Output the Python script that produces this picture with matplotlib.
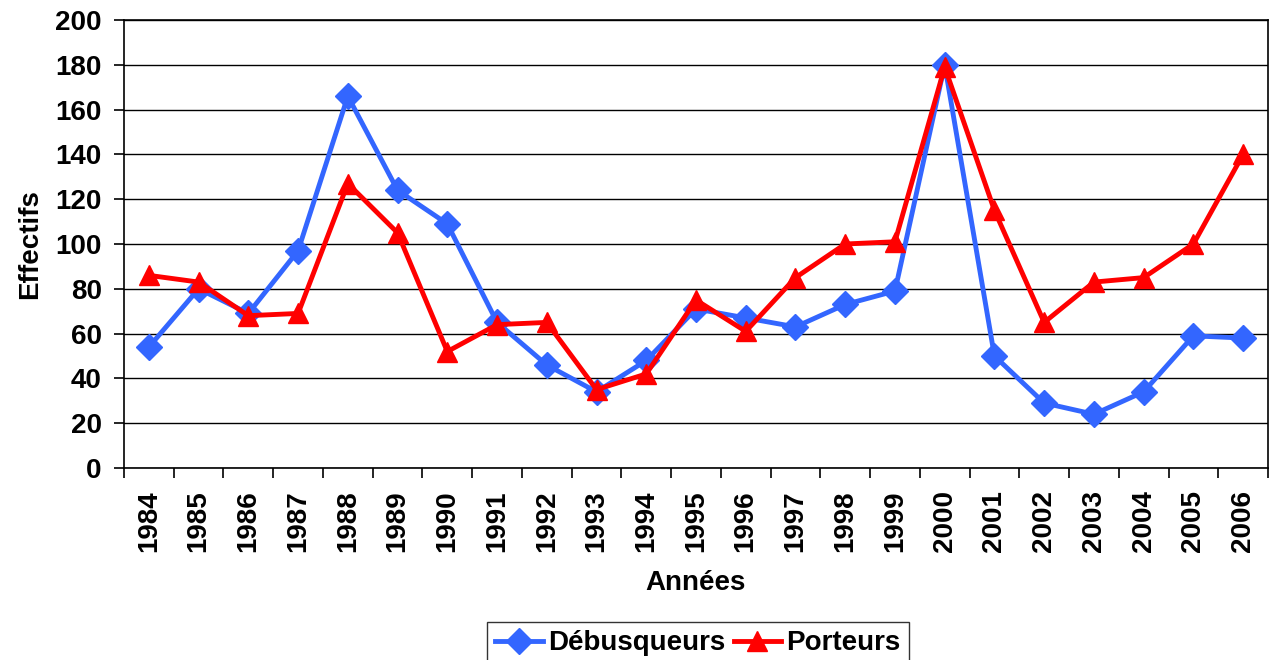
import matplotlib
matplotlib.use("Agg")
import matplotlib.pyplot as plt
import numpy as np

years = ["1984", "1985", "1986", "1987", "1988", "1989", "1990", "1991", "1992", "1993",
         "1994", "1995", "1996", "1997", "1998", "1999", "2000", "2001", "2002", "2003",
         "2004", "2005", "2006"]
debusqueurs = [54, 80, 69, 97, 166, 124, 109, 65, 46, 34, 48, 71, 67, 63, 73, 79, 180, 50, 29, 24, 34, 59, 58]
porteurs = [86, 83, 68, 69, 127, 105, 52, 64, 65, 35, 42, 75, 61, 85, 100, 101, 179, 115, 65, 83, 85, 100, 140]
yticks = [0, 20, 40, 60, 80, 100, 120, 140, 160, 180, 200]

plt.rcParams['font.family'] = ['Liberation Sans', 'DejaVu Sans']
plt.rcParams['font.weight'] = 'bold'

fig = plt.figure(figsize=(12.75, 6.6), dpi=100)
ax = fig.add_axes([124/1275, 1 - 468/660, (1268-124)/1275, (468-20)/660])

x = np.arange(len(years))
ax.plot(x, debusqueurs, color='#3366FF', lw=3.5, marker='D', markersize=13, label='Débusqueurs', zorder=3)
ax.plot(x, porteurs, color='#FF0000', lw=3.5, marker='^', markersize=15, label='Porteurs', zorder=4)

ax.set_xlim(-0.5, len(years) - 0.5)
ax.set_ylim(0, 200)
ax.set_yticks(yticks)
ax.set_yticklabels([str(v) for v in yticks], fontsize=20, fontweight='bold')
ax.set_xticks(np.arange(-0.5, len(years), 1.0))
ax.set_xticklabels([])
ax.set_xticks(x, minor=True)
ax.set_xticklabels(years, minor=True, rotation=90, fontsize=20, fontweight='bold')
ax.tick_params(axis='x', which='minor', length=0, pad=16)
ax.tick_params(axis='x', which='major', length=7, width=1.2, direction='out')
ax.tick_params(axis='y', length=7, width=1.2, direction='out', pad=9)

ax.yaxis.grid(True, color='black', lw=1)
ax.set_axisbelow(True)
for s in ax.spines.values():
    s.set_color('black')
    s.set_linewidth(1.2)

ax.set_ylabel('Effectifs', fontsize=20, fontweight='bold', va='center')
ax.set_xlabel('Années', fontsize=20, fontweight='bold', va='center')
ax.yaxis.set_label_coords((30 - 124) / (1268 - 124), 0.5)
ax.xaxis.set_label_coords(0.5, -(583 - 468) / (468 - 20))

leg = fig.legend(loc='upper center', bbox_to_anchor=(698/1275, 1 - 622/660), bbox_transform=fig.transFigure,
                 ncol=2, frameon=True, fancybox=False, edgecolor='black',
                 prop={'weight': 'bold', 'size': 20}, handlelength=1.7, columnspacing=0.3,
                 handletextpad=0.2, borderpad=0.3, borderaxespad=0)
leg.get_frame().set_linewidth(1)

fig.savefig('out.png', dpi=100)
